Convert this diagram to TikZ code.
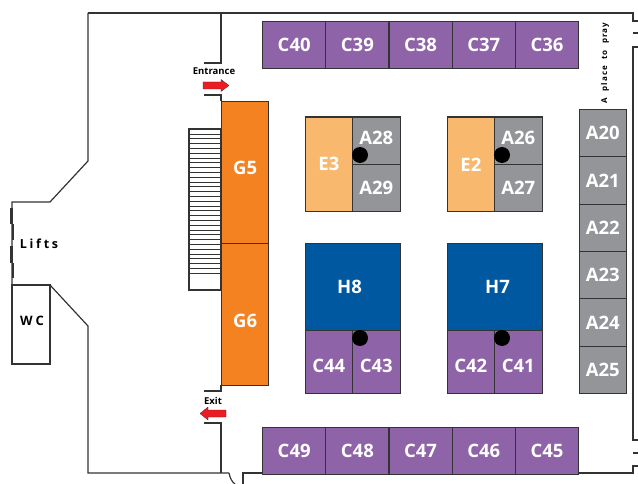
\documentclass[tikz,border=0pt]{standalone}
\usepackage{fontspec}
\setmainfont{Open Sans}
\newfontfamily\spacedfont[LetterSpace=14]{Open Sans}
\newfontfamily\widefont[LetterSpace=22]{Open Sans}
\newcommand{\lifted}[2]{\raisebox{\dimexpr#1pt-6.4pt\relax}[0pt][0pt]{#2}}
\definecolor{boothpurple}{HTML}{8E63A8}
\definecolor{boothgray}{HTML}{939598}
\definecolor{boothorange}{HTML}{F58220}
\definecolor{boothpeach}{HTML}{F8B96F}
\definecolor{boothblue}{HTML}{0058A0}
\definecolor{wallgray}{HTML}{333333}
\definecolor{arrowred}{HTML}{ED1C24}
\tikzset{
  wall/.style={draw=wallgray, line width=1.2pt},
  booth/.style={draw=wallgray, line width=1.2pt, anchor=north west, inner sep=0pt,
    text=white, font=\bfseries\fontsize{18.5}{18.5}\selectfont},
  label/.style={text=black, inner sep=0pt, font=\bfseries\fontsize{9.5}{10}\selectfont},
}
\begin{document}
\begin{tikzpicture}[x=1pt, y=-1pt]
  \useasboundingbox (0,0) rectangle (638,484);
  % outer walls
  \draw[wall] (88,13) -- (88,161) -- (50,202) -- (12,202) -- (12,285) -- (50,285) -- (88,326)
    -- (88,473) -- (229,473);
  \draw[wall] (88,13) -- (633,13) -- (633,21) -- (638,21);
  \draw[wall] (638,47) -- (633,47) -- (633,440) -- (638,440);
  \draw[wall] (638,466) -- (633,466) -- (633,473) -- (243,473) -- (243,484);
  \draw[wall] (229,473) .. controls (230,478) and (232,482) .. (235,484);
  \draw[wall, line width=2pt] (633,33) -- (638,33) (633,453) -- (638,453);
  % wc
  \draw[wall] (12,285) rectangle (50,364);
  % lift doors
  \draw[wall, line width=2.2pt] (11.5,208) -- (11.5,224) (13,224) -- (13,240) (11.5,246) -- (11.5,263) (13,263) -- (13,278);
  % entrance and exit walls
  \draw[wall] (221,13) -- (221,63) -- (204,63);
  \draw[wall] (204,95) -- (221,95) -- (221,101);
  \draw[wall] (221,385) -- (221,391) -- (204,391);
  \draw[wall] (204,423) -- (221,423) -- (221,473);
  \fill[arrowred, draw=wallgray, line width=.3pt] (203,82) -- (221,82) -- (221,79.5) -- (229,85.5) -- (221,91.5) -- (221,89) -- (203,89) -- cycle;
  \fill[arrowred, draw=wallgray, line width=.3pt] (226,410) -- (208,410) -- (208,407) -- (200,413.5) -- (208,420) -- (208,417) -- (226,417) -- cycle;
  \node[label] (entrance) at (214,71) {Entrance};
  \node[label] (exit) at (213,401) {Exit};
  % stairs
  \draw[wall] (189,129) rectangle (221,290);
  \foreach \y in {0,...,29} { \draw[wall, line width=.9pt] (189,134+\y*4.8) -- (221,134+\y*4.8); }
  % big stands
  \node[booth, fill=boothorange, minimum width=47pt, minimum height=142pt] (G5) at (221,101) {\lifted{4}{G5}};
  \node[booth, fill=boothorange, minimum width=47pt, minimum height=142pt] (G6) at (221,243) {\lifted{-6}{G6}};
  \node[booth, fill=boothpeach, minimum width=47.5pt, minimum height=94.5pt] (E3) at (304.5,116.5) {E3};
  \node[booth, fill=boothpeach, minimum width=47.5pt, minimum height=94.5pt] (E2) at (446.5,116.5) {E2};
  \node[booth, fill=boothblue, minimum width=95pt, minimum height=87pt] (H8) at (304.5,243) {\hspace*{-6pt}H8};
  \node[booth, fill=boothblue, minimum width=95pt, minimum height=87pt] (H7) at (446.5,243) {\hspace*{6pt}H7};
  % top and bottom rows
  \foreach \n [count=\i from 0] in {40,39,38,37,36} {
    \node[booth, fill=boothpurple, minimum width=63.2pt, minimum height=47pt] (C\n) at (262+\i*63.2,21) {C\n}; }
  \foreach \n [count=\i from 0] in {49,48,47,46,45} {
    \node[booth, fill=boothpurple, minimum width=63.2pt, minimum height=47pt] (C\n) at (262+\i*63.2,427) {C\n}; }
  % right column
  \foreach \n [count=\i from 0] in {20,...,25} {
    \node[booth, fill=boothgray, minimum width=47.5pt, minimum height=47.3pt] (A\n) at (578.5,109+\i*47.3) {A\n}; }
  % small stands
  \foreach \n/\x/\y/\up in {28/352/116.5/2.5,29/352/164/0,26/494/116.5/2.5,27/494/164/0} {
    \node[booth, fill=boothgray, minimum width=47.5pt, minimum height=47.2pt] (A\n) at (\x,\y) {\lifted{\up}{A\n}}; }
  \foreach \n/\x in {44/304.5,43/352,42/446.5,41/494} {
    \node[booth, fill=boothpurple, minimum width=47.5pt, minimum height=62.5pt] (C\n) at (\x,330) {\lifted{-4}{C\n}}; }
  % black dots
  \foreach \x/\y in {360/155,502/155,360/338,502/338} { \fill[black] (\x,\y) circle (8pt); }
  % room labels
  \node[label, font=\widefont\bfseries\fontsize{12.5}{13}\selectfont] (lifts) at (39,244) {Lifts};
  \node[label, font=\widefont\bfseries\fontsize{13}{13}\selectfont] (wc) at (32,321) {WC};
  \node[label, rotate=90, font=\spacedfont\bfseries\fontsize{8}{8}\selectfont] (pray) at (605,63) {A\hspace{3pt} place\hspace{3pt} to\hspace{3pt} pray};
\end{tikzpicture}
\end{document}
